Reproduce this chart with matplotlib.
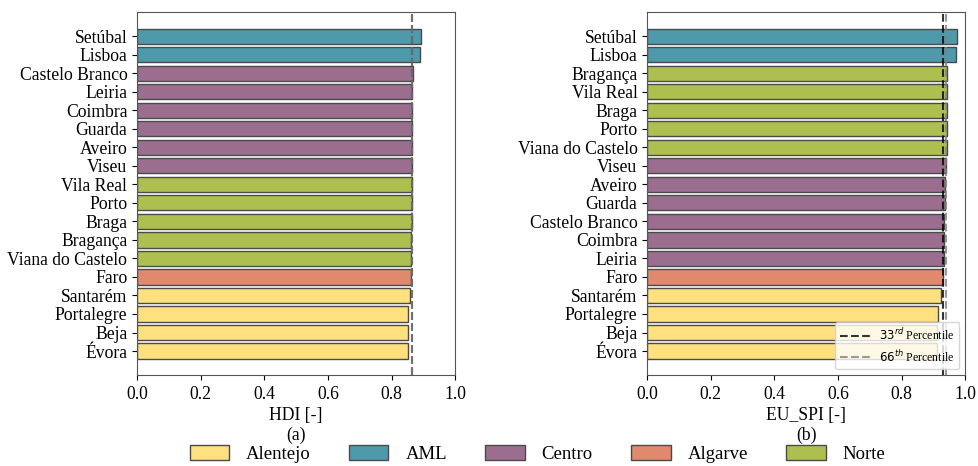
import numpy as np
import matplotlib
matplotlib.use('Agg')
import matplotlib.pyplot as plt
from matplotlib.patches import Patch

plt.rcParams['font.family'] = ['Liberation Serif', 'DejaVu Serif']
plt.rcParams['font.size'] = 12.7

# region colours
regionColors = {'Alentejo': '#FFE07E', 'AML': '#4E9AAB', 'Centro': '#9B6E8F',
                'Algarve': '#E0896C', 'Norte': '#AEBF4F'}
regionOrder = ['Alentejo', 'AML', 'Centro', 'Algarve', 'Norte']

# HDI panel (top to bottom)
hdiNames = ['Setúbal', 'Lisboa', 'Castelo Branco', 'Leiria', 'Coimbra', 'Guarda',
            'Aveiro', 'Viseu', 'Vila Real', 'Porto', 'Braga', 'Bragança',
            'Viana do Castelo', 'Faro', 'Santarém', 'Portalegre', 'Beja', 'Évora']
hdiRegions = ['AML', 'AML', 'Centro', 'Centro', 'Centro', 'Centro', 'Centro', 'Centro',
              'Norte', 'Norte', 'Norte', 'Norte', 'Norte', 'Algarve',
              'Alentejo', 'Alentejo', 'Alentejo', 'Alentejo']
hdiValues = [0.892, 0.890, 0.866, 0.865, 0.865, 0.864, 0.864, 0.864, 0.863, 0.863,
             0.863, 0.862, 0.862, 0.860, 0.857, 0.851, 0.851, 0.850]
hdiP33 = 0.863
hdiP66 = 0.864

# EU_SPI panel (top to bottom)
spiNames = ['Setúbal', 'Lisboa', 'Bragança', 'Vila Real', 'Braga', 'Porto',
            'Viana do Castelo', 'Viseu', 'Aveiro', 'Guarda', 'Castelo Branco',
            'Coimbra', 'Leiria', 'Faro', 'Santarém', 'Portalegre', 'Beja', 'Évora']
spiRegions = ['AML', 'AML', 'Norte', 'Norte', 'Norte', 'Norte', 'Norte',
              'Centro', 'Centro', 'Centro', 'Centro', 'Centro', 'Centro', 'Algarve',
              'Alentejo', 'Alentejo', 'Alentejo', 'Alentejo']
spiValues = [0.974, 0.970, 0.943, 0.942, 0.942, 0.941, 0.941, 0.938, 0.937, 0.935,
             0.934, 0.933, 0.932, 0.930, 0.923, 0.913, 0.912, 0.911]
spiP33 = 0.931
spiP66 = 0.940


def drawPanel(ax, names, regions, values, p33, p66, label):
    ypos = np.arange(len(names))[::-1]
    cols = [regionColors[r] for r in regions]
    ax.barh(ypos, values, height=0.82, color=cols, edgecolor='#4a4a4a', linewidth=1.0)
    ax.set_yticks(ypos)
    ax.set_yticklabels(names)
    ax.set_xlim(0, 1.0)
    ax.set_xticks([0.0, 0.2, 0.4, 0.6, 0.8, 1.0])
    ax.tick_params(axis='x', pad=4.5)
    ax.axvline(p33, color='black', linestyle='--', linewidth=1.5, alpha=0.8,
               label=r'$33^{rd}$ Percentile')
    ax.axvline(p66, color='gray', linestyle='--', linewidth=1.5, alpha=0.8,
               label=r'$66^{th}$ Percentile')
    ax.set_xlabel(label, linespacing=1.15, labelpad=3)
    for s in ax.spines.values():
        s.set_color('#555555')


fig = plt.figure(figsize=(9.79, 4.66), dpi=100)
ax1 = fig.add_axes([0.140, 0.195, 0.325, 0.779])
ax2 = fig.add_axes([0.661, 0.195, 0.325, 0.779])

drawPanel(ax1, hdiNames, hdiRegions, hdiValues, hdiP33, hdiP66, 'HDI [-]\n(a)')
drawPanel(ax2, spiNames, spiRegions, spiValues, spiP33, spiP66, 'EU_SPI [-]\n(b)')

ax2.legend(loc='lower right', fontsize=8.5, handlelength=2.5)

handles = [Patch(facecolor=regionColors[r], edgecolor='#4a4a4a', label=r) for r in regionOrder]
fig.legend(handles=handles, loc='lower center', ncol=5, bbox_to_anchor=(0.549, -0.03),
           frameon=False, fontsize=13.5, handlelength=2.1, handleheight=0.8,
           handletextpad=0.9, columnspacing=2.05)

fig.savefig('out.png', dpi=100)
